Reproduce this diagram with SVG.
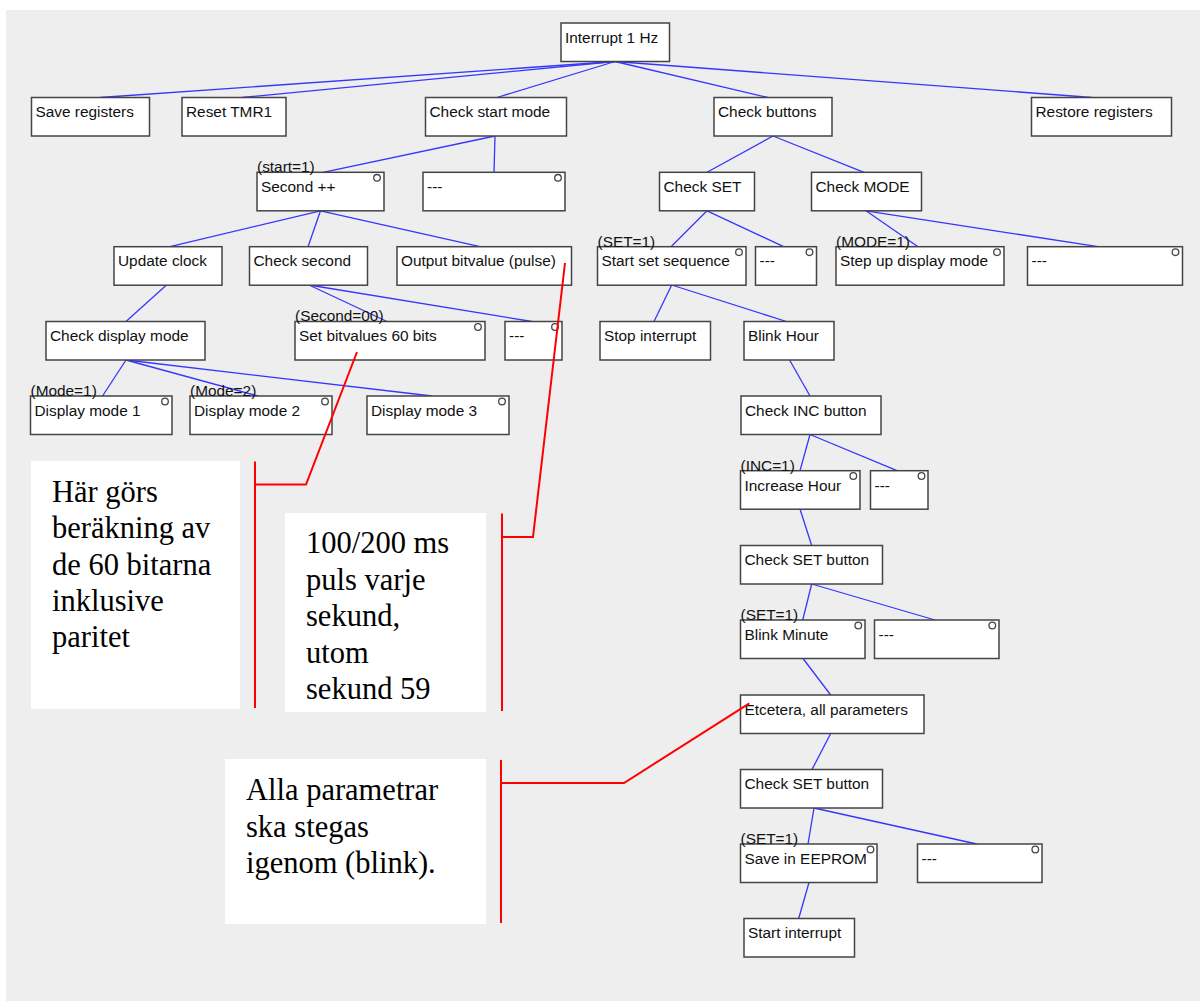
<svg xmlns="http://www.w3.org/2000/svg" width="1200" height="1001" viewBox="0 0 1200 1001">
<style>
.bg{fill:#eeeeee}
.box{fill:#ffffff;stroke:#444444;stroke-width:1.5}
.dot{fill:#ffffff;stroke:#444444;stroke-width:1.3}
.t{font-family:"Liberation Sans",Arial,sans-serif;font-size:15.4px;fill:#111111}
.conn line{stroke:#3636ff;stroke-width:1.3}
.red{stroke:#ff0000;stroke-width:2;fill:none}
.note{fill:#ffffff}
.nt{font-family:"Liberation Serif","Times New Roman",serif;font-size:30.5px;fill:#000000}
</style>
<rect x="0" y="0" width="1200" height="1001" fill="#ffffff"/>
<rect class="bg" x="6" y="10" width="1194" height="991"/>

<g id="notes">
<g id="note_parity">
<rect class="note" x="31" y="461" width="209" height="248"/>
<text class="nt" x="52" y="502">Här görs</text>
<text class="nt" x="52" y="538">beräkning av</text>
<text class="nt" x="52" y="574.5">de 60 bitarna</text>
<text class="nt" x="52" y="611">inklusive</text>
<text class="nt" x="52" y="647">paritet</text>
</g>
<g id="note_pulse">
<rect class="note" x="285" y="513" width="201" height="199"/>
<text class="nt" x="306" y="553">100/200 ms</text>
<text class="nt" x="306" y="589.5">puls varje</text>
<text class="nt" x="306" y="626">sekund,</text>
<text class="nt" x="306" y="662.5">utom</text>
<text class="nt" x="306" y="699">sekund 59</text>
</g>
<g id="note_params">
<rect class="note" x="225" y="759" width="261" height="165"/>
<text class="nt" x="246" y="800">Alla parametrar</text>
<text class="nt" x="246" y="836.5">ska stegas</text>
<text class="nt" x="246" y="873">igenom (blink).</text>
</g>
</g>

<g id="connectors" class="conn">
<line x1="615" y1="61.5" x2="100" y2="97.5"/>
<line x1="615" y1="61.5" x2="242" y2="97.5"/>
<line x1="615" y1="61.5" x2="497" y2="97.5"/>
<line x1="615" y1="61.5" x2="768" y2="97.5"/>
<line x1="615" y1="61.5" x2="1092" y2="97.5"/>
<line x1="495" y1="136" x2="323" y2="172.3"/>
<line x1="495" y1="136" x2="494" y2="172.3"/>
<line x1="773" y1="136" x2="707" y2="172.3"/>
<line x1="773" y1="136" x2="864" y2="172.3"/>
<line x1="320.5" y1="210.8" x2="170" y2="246.7"/>
<line x1="320.5" y1="210.8" x2="308" y2="246.7"/>
<line x1="320.5" y1="210.8" x2="480" y2="246.7"/>
<line x1="707" y1="210.8" x2="671" y2="246.7"/>
<line x1="707" y1="210.8" x2="783.6" y2="246.7"/>
<line x1="866" y1="210.8" x2="918" y2="246.7"/>
<line x1="866" y1="210.8" x2="1098" y2="246.7"/>
<line x1="166.5" y1="285" x2="126" y2="321.5"/>
<line x1="309" y1="285" x2="387" y2="321.5"/>
<line x1="309" y1="285" x2="532" y2="321.5"/>
<line x1="671.7" y1="285" x2="654" y2="321.5"/>
<line x1="671.7" y1="285" x2="786.4" y2="321.5"/>
<line x1="126" y1="360" x2="102.5" y2="396"/>
<line x1="126" y1="360" x2="258" y2="396"/>
<line x1="126" y1="360" x2="432" y2="396"/>
<line x1="789.6" y1="360" x2="810" y2="396"/>
<line x1="810" y1="434.5" x2="800" y2="470.7"/>
<line x1="810" y1="434.5" x2="897" y2="470.7"/>
<line x1="800" y1="509" x2="811.7" y2="545.5"/>
<line x1="811.7" y1="584" x2="802.7" y2="620"/>
<line x1="811.7" y1="584" x2="935" y2="620"/>
<line x1="803" y1="658.5" x2="830.7" y2="695"/>
<line x1="830.7" y1="733.5" x2="812" y2="769.5"/>
<line x1="814" y1="808" x2="808" y2="844"/>
<line x1="814" y1="808" x2="976.7" y2="844"/>
<line x1="809" y1="882.5" x2="798.7" y2="918.5"/>
</g>

<g id="nodes">
<g id="n_interrupt"><rect class="box" x="561" y="23" width="108.5" height="38.5"/><text class="t" x="565" y="42.5">Interrupt 1 Hz</text></g>
<g id="n_save"><rect class="box" x="31.5" y="97.5" width="118" height="38.5"/><text class="t" x="35.5" y="117">Save registers</text></g>
<g id="n_reset"><rect class="box" x="182" y="97.5" width="104" height="38.5"/><text class="t" x="186" y="117">Reset TMR1</text></g>
<g id="n_startmode"><rect class="box" x="425.5" y="97.5" width="141" height="38.5"/><text class="t" x="429.5" y="117">Check start mode</text></g>
<g id="n_buttons"><rect class="box" x="714" y="97.5" width="118" height="38.5"/><text class="t" x="718" y="117">Check buttons</text></g>
<g id="n_restore"><rect class="box" x="1031.5" y="97.5" width="140" height="38.5"/><text class="t" x="1035.5" y="117">Restore registers</text></g>

<g id="n_second"><rect class="box" x="257" y="172.3" width="127" height="38.5"/><circle class="dot" cx="377" cy="177.8" r="3.3"/><text class="t" x="261" y="191.8">Second ++</text><text class="t" x="257" y="172">(start=1)</text></g>
<g id="n_startno"><rect class="box" x="423" y="172.3" width="142" height="38.5"/><circle class="dot" cx="558" cy="177.8" r="3.3"/><text class="t" x="427" y="191.8">---</text></g>
<g id="n_checkset"><rect class="box" x="659.5" y="172.3" width="95" height="38.5"/><text class="t" x="663.5" y="191.8">Check SET</text></g>
<g id="n_checkmode"><rect class="box" x="811.5" y="172.3" width="110" height="38.5"/><text class="t" x="815.5" y="191.8">Check MODE</text></g>

<g id="n_update"><rect class="box" x="114" y="246.7" width="108" height="38.5"/><text class="t" x="118" y="266.2">Update clock</text></g>
<g id="n_checksecond"><rect class="box" x="249.5" y="246.7" width="118" height="38.5"/><text class="t" x="253.5" y="266.2">Check second</text></g>
<g id="n_output"><rect class="box" x="397" y="246.7" width="174.5" height="38.5"/><text class="t" x="401" y="266.2">Output bitvalue (pulse)</text></g>
<g id="n_startset"><rect class="box" x="597.5" y="246.7" width="148.5" height="38.5"/><circle class="dot" cx="739" cy="252.2" r="3.3"/><text class="t" x="601.5" y="266.2">Start set sequence</text><text class="t" x="597.5" y="246.5">(SET=1)</text></g>
<g id="n_setno"><rect class="box" x="755.5" y="246.7" width="61" height="38.5"/><circle class="dot" cx="809.5" cy="252.2" r="3.3"/><text class="t" x="759.5" y="266.2">---</text></g>
<g id="n_stepup"><rect class="box" x="836" y="246.7" width="168" height="38.5"/><circle class="dot" cx="997" cy="252.2" r="3.3"/><text class="t" x="840" y="266.2">Step up display mode</text><text class="t" x="836" y="246.5">(MODE=1)</text></g>
<g id="n_modeno"><rect class="box" x="1027.5" y="246.7" width="155" height="38.5"/><circle class="dot" cx="1175.5" cy="252.2" r="3.3"/><text class="t" x="1031.5" y="266.2">---</text></g>

<g id="n_dispmode"><rect class="box" x="46" y="321.5" width="159" height="38.5"/><text class="t" x="50" y="341">Check display mode</text></g>
<g id="n_setbits"><rect class="box" x="295" y="321.5" width="190" height="38.5"/><circle class="dot" cx="478" cy="327" r="3.3"/><text class="t" x="299" y="341">Set bitvalues 60 bits</text><text class="t" x="295" y="321.3">(Second=00)</text></g>
<g id="n_secno"><rect class="box" x="505" y="321.5" width="57" height="38.5"/><circle class="dot" cx="555" cy="327" r="3.3"/><text class="t" x="509" y="341">---</text></g>
<g id="n_stopint"><rect class="box" x="600" y="321.5" width="110.5" height="38.5"/><text class="t" x="604" y="341">Stop interrupt</text></g>
<g id="n_blinkhour"><rect class="box" x="744" y="321.5" width="90" height="38.5"/><text class="t" x="748" y="341">Blink Hour</text></g>

<g id="n_dm1"><rect class="box" x="30.5" y="396" width="141.5" height="38.5"/><circle class="dot" cx="165" cy="401.5" r="3.3"/><text class="t" x="34.5" y="415.5">Display mode 1</text><text class="t" x="30.5" y="395.8">(Mode=1)</text></g>
<g id="n_dm2"><rect class="box" x="190" y="396" width="142" height="38.5"/><circle class="dot" cx="325" cy="401.5" r="3.3"/><text class="t" x="194" y="415.5">Display mode 2</text><text class="t" x="190" y="395.8">(Mode=2)</text></g>
<g id="n_dm3"><rect class="box" x="367" y="396" width="142" height="38.5"/><circle class="dot" cx="502" cy="401.5" r="3.3"/><text class="t" x="371" y="415.5">Display mode 3</text></g>
<g id="n_checkinc"><rect class="box" x="741" y="396" width="140" height="38.5"/><text class="t" x="745" y="415.5">Check INC button</text></g>

<g id="n_inchour"><rect class="box" x="740.5" y="470.7" width="119.5" height="38.5"/><circle class="dot" cx="853.3" cy="476" r="3.3"/><text class="t" x="744.5" y="490.5">Increase Hour</text><text class="t" x="740.5" y="470.5">(INC=1)</text></g>
<g id="n_incno"><rect class="box" x="870.5" y="470.7" width="57.5" height="38.5"/><circle class="dot" cx="921.5" cy="476" r="3.3"/><text class="t" x="874.5" y="490.5">---</text></g>
<g id="n_checkset1"><rect class="box" x="740.5" y="545.5" width="142" height="38.5"/><text class="t" x="744.5" y="565">Check SET button</text></g>
<g id="n_blinkmin"><rect class="box" x="740.5" y="620" width="124.5" height="38.5"/><circle class="dot" cx="858.3" cy="625.5" r="3.3"/><text class="t" x="744.5" y="639.5">Blink Minute</text><text class="t" x="740.5" y="619.8">(SET=1)</text></g>
<g id="n_minno"><rect class="box" x="874.5" y="620" width="124.5" height="38.5"/><circle class="dot" cx="992.3" cy="625.5" r="3.3"/><text class="t" x="878.5" y="639.5">---</text></g>
<g id="n_etc"><rect class="box" x="740.5" y="695" width="183.5" height="38.5"/><text class="t" x="744.5" y="714.5">Etcetera, all parameters</text></g>
<g id="n_checkset2"><rect class="box" x="740.5" y="769.5" width="142" height="38.5"/><text class="t" x="744.5" y="789">Check SET button</text></g>
<g id="n_eeprom"><rect class="box" x="740.5" y="844" width="136.5" height="38.5"/><circle class="dot" cx="870.5" cy="849.5" r="3.3"/><text class="t" x="744.5" y="863.5">Save in EEPROM</text><text class="t" x="740.5" y="843.8">(SET=1)</text></g>
<g id="n_eepromno"><rect class="box" x="917.5" y="844" width="124.5" height="38.5"/><circle class="dot" cx="1035.3" cy="849.5" r="3.3"/><text class="t" x="921.5" y="863.5">---</text></g>
<g id="n_startint"><rect class="box" x="744" y="918.5" width="110.5" height="38.5"/><text class="t" x="748" y="938">Start interrupt</text></g>
</g>

<g id="callouts">
<polyline class="red" points="357,352 306,484.5 255,484.5"/>
<line class="red" x1="255" y1="461.5" x2="255" y2="708"/>
<polyline class="red" points="565,263 533,537 502,537"/>
<line class="red" x1="502" y1="513.5" x2="502" y2="711"/>
<polyline class="red" points="749.3,703.3 624,783 501,783"/>
<line class="red" x1="501" y1="760" x2="501" y2="923"/>
</g>
</svg>
